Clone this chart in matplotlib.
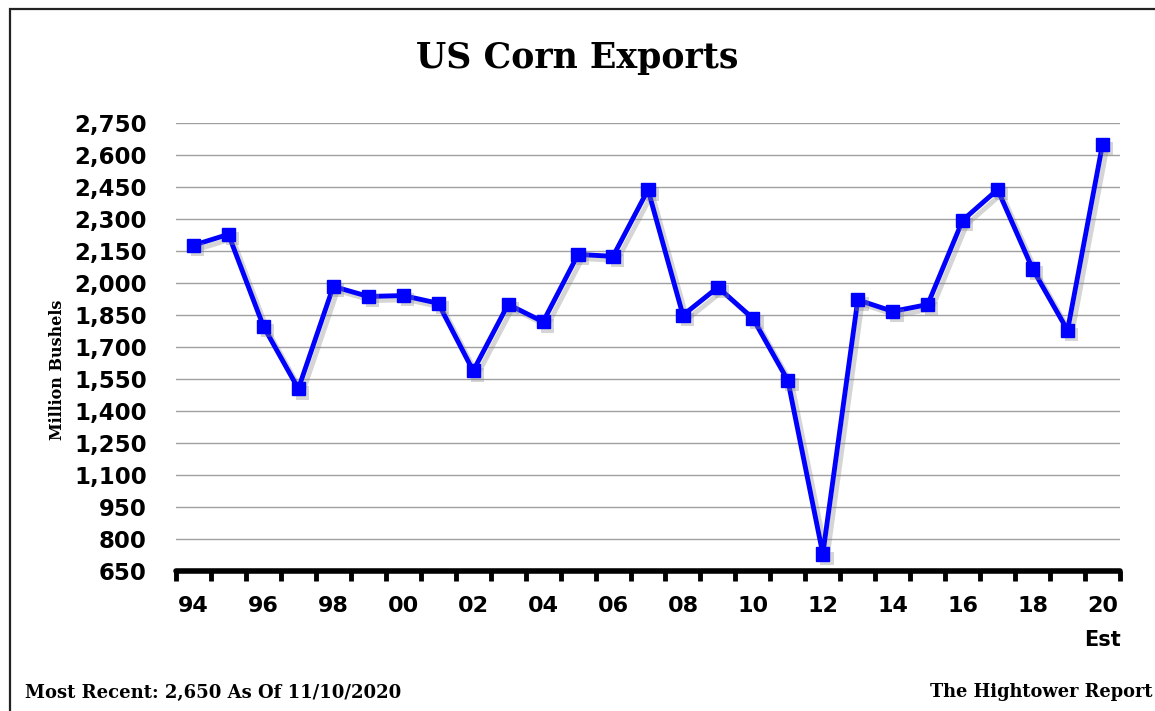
import matplotlib
matplotlib.use('Agg')
import matplotlib.pyplot as plt
import matplotlib.patheffects as pe
from matplotlib.patches import Rectangle
from matplotlib.ticker import FixedLocator

# Marketing year export totals, million bushels (2020 = estimate)
years = ['94', '95', '96', '97', '98', '99', '00', '01', '02', '03', '04', '05', '06', '07',
         '08', '09', '10', '11', '12', '13', '14', '15', '16', '17', '18', '19', '20']
exports = [2177, 2228, 1797, 1504, 1984, 1937, 1941, 1905, 1588, 1900, 1818, 2134, 2125, 2437,
           1849, 1980, 1834, 1543, 730, 1921, 1867, 1899, 2294, 2438, 2066, 1778, 2650]
y_ticks = list(range(650, 2751, 150))

W, H = 1155, 711
fig = plt.figure(figsize=(W / 100, H / 100), dpi=100)
fig.patch.set_facecolor('white')

# outer frame (cut off at right/bottom like the original)
fig.patches.append(Rectangle((10 / W, -0.1), 1.2, 1 - 9 / H + 0.1, transform=fig.transFigure,
                             fill=False, edgecolor='#222222', linewidth=1.6))

ax = fig.add_axes([176 / W, 1 - 571 / H, (1120 - 176) / W, (571 - 123) / H])
x = list(range(len(years)))

line_shadow = [pe.SimpleLineShadow(offset=(3, -3), shadow_color='#888888', alpha=0.35),
               pe.Normal()]
mark_shadow = [pe.SimplePatchShadow(offset=(3, -3), shadow_rgbFace='#888888', alpha=0.35),
               pe.Normal()]
ax.plot(x, exports, color='#0000ff', linewidth=3.5, path_effects=line_shadow, zorder=3,
        clip_on=False)
ax.plot(x, exports, linestyle='none', marker='s', markersize=9.5, color='#0000ff',
        markeredgecolor='#0000ff', path_effects=mark_shadow, zorder=4, clip_on=False)

ax.set_xlim(-0.5, len(years) - 0.5)
ax.set_ylim(650, 2750)
ax.set_yticks(y_ticks)
ax.set_yticklabels([f'{v:,}' for v in y_ticks], fontsize=16.5, fontweight='bold',
                   family='DejaVu Sans')
ax.tick_params(axis='y', length=0, pad=21)
for v in y_ticks[1:]:
    ax.axhline(v, color='#a0a0a0', linewidth=1.0, zorder=1)

# x ticks at category boundaries, labels every other year
ax.xaxis.set_major_locator(FixedLocator([i - 0.5 for i in range(len(years) + 1)]))
ax.set_xticklabels([])
ax.tick_params(axis='x', length=7, width=3.5, direction='out', color='black')
for i in range(0, len(years), 2):
    ax.text(i, -0.078, years[i], transform=ax.get_xaxis_transform(), ha='center',
            va='center', fontsize=16, fontweight='bold', family='DejaVu Sans')
ax.text(len(years) - 1, -0.154, 'Est', transform=ax.get_xaxis_transform(), ha='center',
        va='center', fontsize=15, fontweight='bold', family='DejaVu Sans')

for side in ['left', 'right', 'top']:
    ax.spines[side].set_visible(False)
ax.spines['bottom'].set_linewidth(4)
ax.spines['bottom'].set_capstyle('round')

fig.text(577 / W, 1 - 58 / H, 'US Corn Exports', ha='center', va='center', fontsize=25,
         fontweight='bold', family='DejaVu Serif')
fig.text(57 / W, 1 - 370 / H, 'Million Bushels', rotation=90, ha='center', va='center',
         fontsize=11.5, fontweight='bold', family='DejaVu Serif')
fig.text(25 / W, 1 - 693 / H, 'Most Recent: 2,650 As Of 11/10/2020', ha='left', va='center',
         fontsize=13, fontweight='bold', family='DejaVu Serif')
fig.text(1152 / W, 1 - 692 / H, 'The Hightower Report', ha='right', va='center',
         fontsize=12.8, fontweight='bold', family='DejaVu Serif')

fig.savefig('out.png', dpi=100)
